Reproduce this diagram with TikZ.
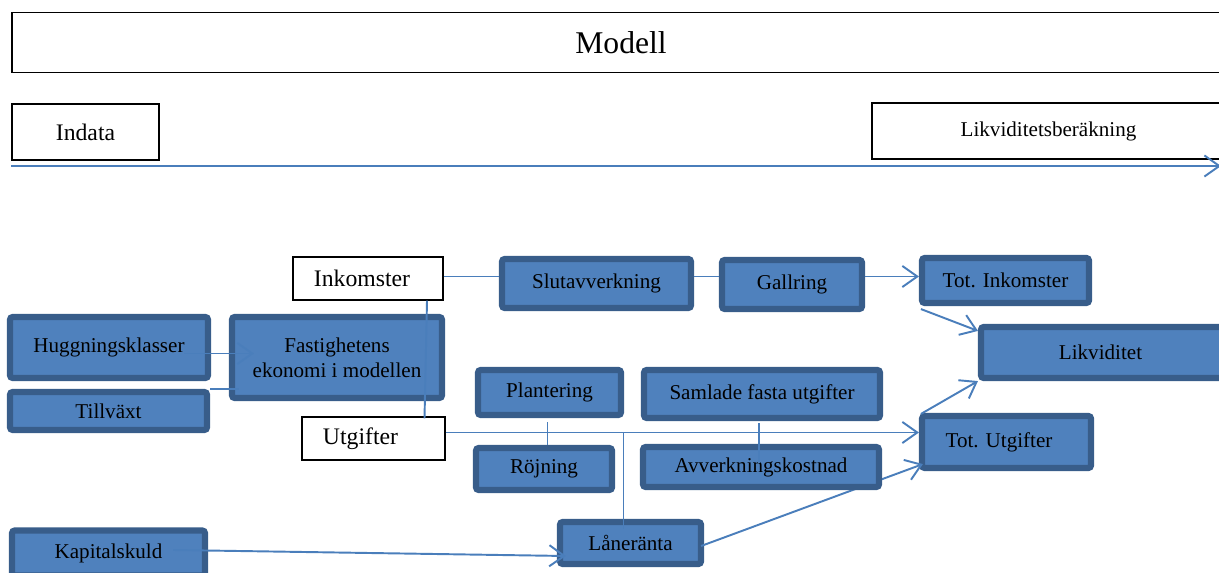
\documentclass[tikz,border=0pt]{standalone}
\usepackage{fontspec}
\setmainfont{Liberation Serif}
\usetikzlibrary{arrows.meta, positioning}
\definecolor{boxfill}{HTML}{4F81BD}
\definecolor{boxline}{HTML}{385D8A}
\definecolor{linkblue}{HTML}{4A7EBB}
\tikzstyle{block} = [draw=boxline, fill=boxfill, line width=3.5pt, rounded corners=1.5pt, rectangle, align=center, font=\fontsize{12}{14}\selectfont]
\tikzstyle{whitebox} = [draw=black, fill=white, line width=0.8pt, rectangle, font=\fontsize{13.5}{16}\selectfont]
\tikzstyle{link} = [draw=linkblue, line width=1.1pt]

\begin{document}
\begin{tikzpicture}[x=0.02cm, y=-0.02cm, >={Straight Barb[length=8.5pt,width=12pt]}]
    \useasboundingbox (0,0) rectangle (1219,573);
    \clip (0,0) rectangle (1219,573);
    % top row
    \node[whitebox, minimum width=24.36cm, minimum height=1.2cm, font=\fontsize{18}{21}\selectfont] (modell) at (621,42.5) {Modell};
    \node[whitebox, minimum width=2.94cm, minimum height=1.12cm] (indata) at (85.5,132) {Indata};
    \node[whitebox, minimum width=7.16cm, minimum height=1.12cm, font=\fontsize{12}{14}\selectfont] (likvber) at (1051,131) {Likviditetsberäkning\kern0.1cm};
    \coordinate (tl-end) at (1221,166);
    \draw[link, ->] (indata.south west |- tl-end) -- (tl-end);
    % left side
    \node[block, minimum width=3.96cm, minimum height=1.22cm] (hugg) at (109,347.5) {Huggningsklasser};
    \node[block, minimum width=3.94cm, minimum height=0.76cm] (tillvaxt) at (108.5,411) {Tillväxt};
    \node[block, minimum width=4.2cm, minimum height=1.62cm] (fast) at (337,357.5) {Fastighetens\\ekonomi i modellen};
    \node[block, minimum width=3.86cm, minimum height=0.9cm] (kapital) at (108.5,553) {Kapitalskuld};
    \node[whitebox, minimum width=3cm, minimum height=0.86cm] (inkomster) at (368,278.5) {Inkomster\kern0.24cm};
    \node[whitebox, minimum width=2.86cm, minimum height=0.86cm] (utgifter) at (373.5,438.5) {\raisebox{-3pt}{Utgifter}\kern0.52cm};
    % income and cost items
    \node[block, minimum width=3.78cm, minimum height=0.98cm] (slut) at (596.5,283.5) {Slutavverkning};
    \node[block, minimum width=2.8cm, minimum height=0.98cm] (gallring) at (792,284.5) {Gallring};
    \node[block, minimum width=2.86cm, minimum height=0.9cm] (plant) at (549.5,392.5) {Plantering};
    \node[block, minimum width=4.72cm, minimum height=0.96cm] (samlade) at (762,394) {Samlade fasta utgifter};
    \node[block, minimum width=2.72cm, minimum height=0.84cm] (rojning) at (544,469) {Röjning};
    \node[block, minimum width=2.82cm, minimum height=0.84cm] (lanerant) at (630.5,543) {Låneränta};
    % totals
    \node[block, minimum width=3.34cm, minimum height=0.9cm] (totink) at (1005.5,280.5) {Tot. Inkomster};
    \node[block, minimum width=3.38cm, minimum height=1.04cm] (totutg) at (1006.5,442) {Tot. Utgifter\kern0.3cm};
    \node[block, minimum width=4.9cm, minimum height=1.02cm] (likv) at (1103.5,352.5) {Likviditet\kern0.12cm};
    % runs behind Avverkningskostnad
    \draw[link, ->] ([shift={(-3,3)}]lanerant.east) -- ([shift={(4,-7)}]totutg.south west);
    \node[block, minimum width=4.72cm, minimum height=0.8cm] (avverk) at (761,467) {Avverkningskostnad};
    % connectors
    \draw[link, ->] ([shift={(-27,6)}]hugg.east) -- ([shift={(25,6)}]hugg.east -| fast.west);
    \draw[link] (tillvaxt.north east) -- ([shift={(10,0)}]tillvaxt.north east -| fast.west);
    \draw[link] ([shift={(59,0)}]inkomster.south) -- ([shift={(51,2)}]utgifter.north);
    \draw[link] ([shift={(0,-2)}]inkomster.east) -- ([shift={(0,-2)}]inkomster.east -| slut.west);
    \draw[link] ([shift={(0,-2)}]slut.east |- inkomster.east) -- ([shift={(0,-2)}]inkomster.east -| gallring.west);
    \draw[link, ->] ([shift={(0,-2)}]gallring.east |- inkomster.east) -- ([shift={(0,-2)}]inkomster.east -| totink.west);
    \draw[link, ->] ([shift={(2,3)}]totink.south west) -- ([shift={(0,7)}]likv.north west);
    \draw[link, ->] ([shift={(2,1)}]totutg.north west) -- (likv.south west);
    \draw[link, ->] ([shift={(0,-6)}]utgifter.east) -- ([shift={(0,-6)}]utgifter.east -| totutg.west);
    \draw[link] ([shift={(-2,4)}]plant.south) -- ([shift={(-2,0)}]plant.south |- rojning.north);
    \draw[link] ([shift={(-3,2)}]samlade.south) -- ([shift={(-3,19)}]samlade.south |- avverk.north);
    \draw[link] ([shift={(-7,-6)}]lanerant.north |- utgifter.east) -- ([shift={(-7,10)}]lanerant.north);
    \draw[link, ->] ([shift={(-35,-3)}]kapital.east) -- ([shift={(9,13)}]lanerant.west);
\end{tikzpicture}
\end{document}
